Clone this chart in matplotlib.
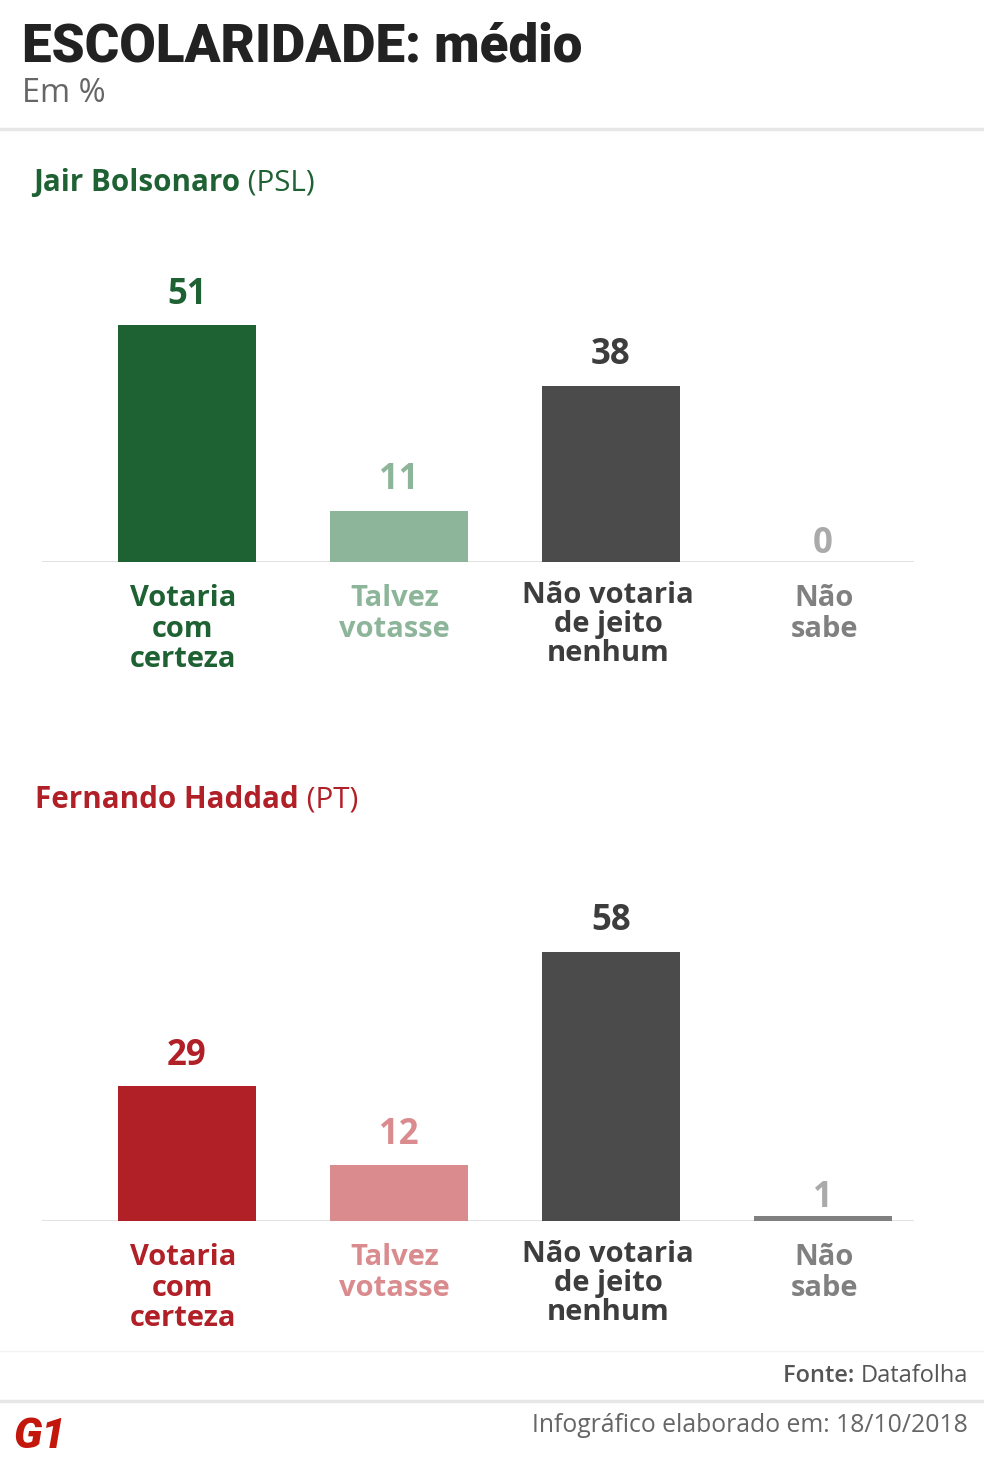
import matplotlib
matplotlib.use("Agg")
import matplotlib.pyplot as plt

W, H = 984, 1475

categories = ["Votaria\ncom\ncerteza", "Talvez\nvotasse", "Não votaria\nde jeito\nnenhum", "Não\nsabe"]
bolsonaro = [51, 11, 38, 0]
haddad = [29, 12, 58, 1]

green_colors = ["#1e6133", "#8db59a", "#4b4b4b", "#808080"]
green_text = ["#1e6133", "#8db59a", "#3d3d3d", "#808080"]
green_values = ["#1e6133", "#8db59a", "#3d3d3d", "#aaaaaa"]
red_colors = ["#b11f27", "#d98b8e", "#4b4b4b", "#808080"]
red_text = ["#b11f27", "#d98b8e", "#3d3d3d", "#808080"]
red_values = ["#b11f27", "#d98b8e", "#3d3d3d", "#aaaaaa"]

plt.rcParams['font.family'] = ['Open Sans', 'DejaVu Sans']

fig = plt.figure(figsize=(W / 100, H / 100), dpi=100)
fig.patch.set_facecolor("white")
r = fig.canvas.get_renderer()


def fx(x):
    return x / W


def fy(y):
    return 1 - y / H


def fit_text(x, y, s, width_px, size, **kw):
    # scale the font so the text spans about width_px
    t = fig.text(fx(x), fy(y), s, fontsize=size, **kw)
    w = t.get_window_extent(r).width
    t.set_fontsize(size * width_px / w)
    return t


def two_part(x, y, bold, normal, color, size, ha="left"):
    # draws a bold part followed by a regular part on one line
    if ha == "left":
        t1 = fig.text(fx(x), fy(y), bold, color=color, fontsize=size,
                      fontweight="bold", va="center", ha="left")
        bb = t1.get_window_extent(r)
        fig.text(bb.x1 / W, fy(y), normal, color=color, fontsize=size,
                 va="center", ha="left")
    else:
        t2 = fig.text(fx(x), fy(y), normal, color=color, fontsize=size,
                      va="center", ha="right")
        bb = t2.get_window_extent(r)
        fig.text(bb.x0 / W, fy(y), bold, color=color, fontsize=size,
                 fontweight="semibold", va="center", ha="right")


def panel(base, values, colors, text_colors, value_colors):
    ax = fig.add_axes([fx(42), fy(base), fx(914) - fx(42), 325 / H])
    x = list(range(len(values)))
    ax.bar(x, values, width=138 / 212, color=colors, zorder=3)
    ax.set_xlim(-145 / 212, 3 + 91 / 212)
    ax.set_ylim(0, 70)
    ax.axhline(0, color="#d9d9d9", lw=1.8, zorder=2)
    for s in ax.spines.values():
        s.set_visible(False)
    ax.set_xticks([])
    ax.set_yticks([])
    ax.patch.set_alpha(0)
    for i, v in enumerate(values):
        off = 9 if v > 5 else 0
        ax.annotate(str(v), (i, v), xytext=(0, off), textcoords="offset points",
                    ha="center", va="bottom", fontsize=25, fontweight="bold",
                    color=value_colors[i])
        ls = 0.98 if i == 2 else 1.07
        dy = -14 if i == 2 else -16
        dx = -3 if i in (0, 1) else (-2 if i == 2 else 1)
        ax.annotate(categories[i], (i, 0), xytext=(dx, dy), textcoords="offset points",
                    ha="center", va="top", fontsize=21, fontweight="bold",
                    color=text_colors[i], linespacing=ls)
    return ax


# header
fit_text(22, 47, "ESCOLARIDADE: médio", 561, 34, fontweight="black",
         family=["Roboto", "DejaVu Sans"], color="#222222", va="center", ha="left")
fig.text(fx(22), fy(93), "Em %", fontsize=23.5, color="#666666", va="center", ha="left")
fig.add_artist(plt.Line2D([0, 1], [fy(129), fy(129)], color="#e6e6e6", lw=2.5))

two_part(33, 183, "Jair Bolsonaro", " (PSL)", "#1e6133", 21.3)
panel(562, bolsonaro, green_colors, green_text, green_values)

two_part(35, 800, "Fernando Haddad", " (PT)", "#b11f27", 21.3)
panel(1221, haddad, red_colors, red_text, red_values)

# footer
fig.add_artist(plt.Line2D([0, 1], [fy(1351), fy(1351)], color="#f3f3f3", lw=1))
two_part(968, 1376, "Fonte: ", "Datafolha", "#555555", 17, ha="right")
fig.add_artist(plt.Line2D([0, 1], [fy(1401), fy(1401)], color="#e6e6e6", lw=2.5))
fit_text(968, 1425, "Infográfico elaborado em: 18/10/2018", 436, 17,
         color="#666666", va="center", ha="right")
fig.text(fx(13), fy(1437), "G1", fontsize=31, fontweight="black", style="italic",
         family=["Roboto", "DejaVu Sans"], color="#c4170c", va="center", ha="left")

fig.savefig("out.png", dpi=100, facecolor="white")
